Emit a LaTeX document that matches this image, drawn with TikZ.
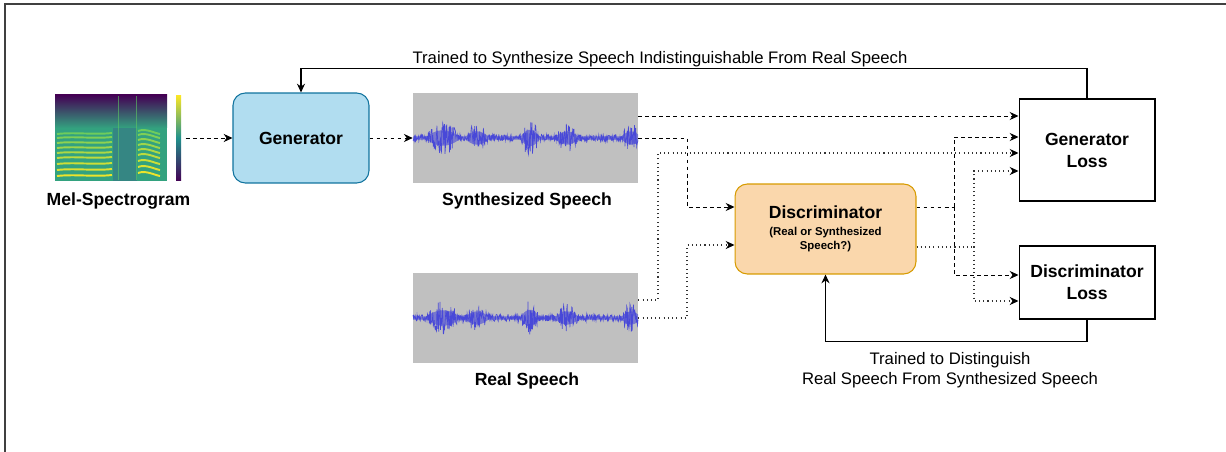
\documentclass[tikz,border=0pt]{standalone}
\usepackage{fontspec}
\setmainfont{Liberation Sans}
\usetikzlibrary{arrows.meta}

\definecolor{genblue}{HTML}{B1DDF0}
\definecolor{genedge}{HTML}{10739E}
\definecolor{discfill}{HTML}{FAD7AC}
\definecolor{discedge}{HTML}{D79B00}
\definecolor{wavebg}{HTML}{C0C0C0}
\definecolor{wavecol}{HTML}{4848D8}
\definecolor{vpurple}{HTML}{440154}
\definecolor{vblue}{HTML}{3B528B}
\definecolor{vteal}{HTML}{21918C}
\definecolor{vgreen}{HTML}{5EC962}
\definecolor{vyellow}{HTML}{FDE725}

\begin{document}
\begin{tikzpicture}[x=0.02cm, y=-0.02cm]

      \tikzset{block/.style={draw, line width=0.6pt, rounded corners=7pt, minimum width=2.72cm, minimum height=1.8cm, align=center, font=\fontsize{10}{12.5}\selectfont\bfseries},
               lossbox/.style={draw, line width=0.6pt, minimum width=2.72cm, align=center, font=\fontsize{10}{12.5}\selectfont\bfseries},
               wavebox/.style={fill=wavebg, minimum width=4.5cm, minimum height=1.8cm, inner sep=0pt},
               caption/.style={font=\fontsize{10}{12}\selectfont\bfseries},
               note/.style={font=\fontsize{9.5}{11.3}\selectfont, align=center},
               dasharrow/.style={-{Stealth[length=5pt, width=4.6pt]}, line width=0.5pt, dash pattern=on 2.2pt off 1.8pt},
               dashline/.style={line width=0.5pt, dash pattern=on 2.2pt off 1.8pt},
               dotarrow/.style={-{Stealth[length=5pt, width=4.6pt, black]}, line width=0.6pt, black!80, dash pattern=on 0.6pt off 1.8pt},
               dotline/.style={line width=0.6pt, black!80, dash pattern=on 0.6pt off 1.8pt},
               feedback/.style={-{Stealth[length=5pt, width=4.6pt]}, line width=0.6pt},
               declare function={bump(\t,\c,\w)=max(0,1-((\t-\c)/\w)*((\t-\c)/\w));
                 wenv(\t)=3+11*bump(\t,443,16)+9*bump(\t,477,11)+12*bump(\t,530,9)+9*bump(\t,567,11)+9*bump(\t,631,9);}}

      \useasboundingbox (0,0) rectangle (1226,452);
      \draw[line width=0.9pt, black!75] (5,452) -- (5,4) -- (1226,4);

%% Mel-spectrogram
      	\node[fill=vteal!70!vgreen, minimum width=2.24cm, minimum height=1.72cm, inner sep=0pt] (mel) at (111,138) {};
      	\shade[top color=vpurple, bottom color=vteal!70!vgreen] (55,95) rectangle (167,128);
      	\fill[vblue, opacity=0.35] (113,128) rectangle (137,181);
      	\foreach \y [count=\i] in {176,170,164,158,153,148,143,138,134}
      	  {\pgfmathsetmacro{\p}{100-10*\i}
      	   \draw[vyellow!\p!vgreen, line width=1.1pt] (57,\y) .. controls (75,\y-2) and (95,\y+1) .. (112,\y-1);
      	   \draw[vyellow!\p!vgreen, line width=1.1pt] (138,\y-3) .. controls (146,\y-6) and (154,\y-1) .. (160,\y);}
      	\draw[vgreen, opacity=0.6, line width=0.5pt] (136,96) -- (136,180) (118,96) -- (118,180);
      	\node[minimum width=0.1cm, minimum height=1.72cm, inner sep=0pt, top color=vyellow, bottom color=vpurple, middle color=vteal] (cbar) at (178.5,138) {};
      	\node[caption] (mellbl) at (118.5,201) {Mel-Spectrogram};

%% Vertices
      	\node[block, fill=genblue, draw=genedge] (gen) at (301,138) {Generator};
      	\node[wavebox] (synth) at (525.5,138) {};
      	\node[wavebox] (real) at (525.5,318) {};
      	\foreach \wy in {138,318}
      	  {\fill[wavecol, opacity=0.6] plot[domain=413:638, samples=120] (\x, {\wy-0.55*wenv(\x)}) -- plot[domain=638:413, samples=120] (\x, {\wy+0.55*wenv(\x)}) -- cycle;
      	   \draw[wavecol, line width=0.35pt] plot[domain=413:638, samples=500] (\x, {\wy+wenv(\x)*(2.4*rnd-1.2)});}
      	\node[caption] (synthlbl) at (527,201) {Synthesized Speech};
      	\node[caption] (reallbl) at (527,381) {Real Speech};
      	\node[block, fill=discfill, draw=discedge, minimum width=3.62cm, font=\fontsize{6.5}{8.5}\selectfont\bfseries] (disc) at (825.5,229)
      	  {{\fontsize{10}{12}\selectfont Discriminator}\\[1pt](Real or Synthesized\\Speech?)};
      	\node[lossbox, minimum height=2.04cm] (genloss) at (1087,150) {Generator\\Loss};
      	\node[lossbox, minimum height=1.46cm] (discloss) at (1087,282.5) {Discriminator\\Loss};
      	\coordinate (dsplit) at (954,207);
      	\coordinate (psplit) at (974,247);

%Edges
		\draw[dasharrow, shorten <=2.5pt] (cbar.east) -- (gen.west);
		\draw[dasharrow] (gen.east) -- (synth.west);
		\draw[dasharrow] (synth.east |- 0,116) -- (genloss.west |- 0,116);
		\draw[dasharrow] (synth.east) -| (687,207) -- (disc.west |- 0,207);
		\draw[dotarrow] (real.east |- 0,300) -| (658,153) -- (genloss.west |- 0,153);
		\draw[dotarrow] (real.east) -| (687,245) -- (disc.west |- 0,245);
		\draw[dashline] (disc.east |- dsplit) -- (dsplit);
		\draw[dasharrow] (dsplit) |- (genloss.west |- 0,137);
		\draw[dasharrow] (dsplit) |- (discloss.west |- 0,275);
		\draw[dotline] (disc.east |- psplit) -- (psplit);
		\draw[dotarrow] (psplit) |- (genloss.west |- 0,171);
		\draw[dotarrow] (psplit) |- (discloss.west |- 0,301);
		\draw[feedback] (genloss.north) -- ++(0,-30) -| (gen.north);
		\draw[feedback] (discloss.south) -- ++(0,22) -| (disc.south);
		\node[note] (gentrain) at (660,59) {Trained to Synthesize Speech Indistinguishable From Real Speech};
		\node[note] (disctrain) at (950,370) {Trained to Distinguish\\Real Speech From Synthesized Speech};

	\end{tikzpicture}
\end{document}
